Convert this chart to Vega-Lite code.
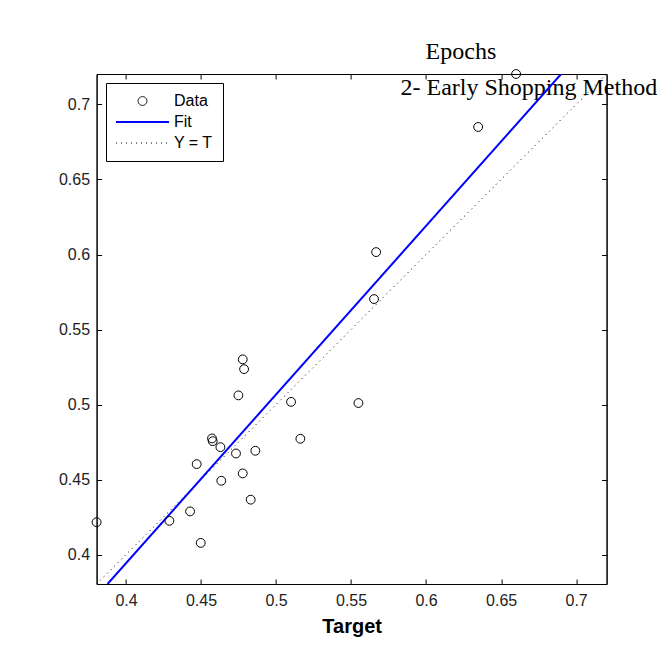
{
  "$schema": "https://vega.github.io/schema/vega-lite/v6.json",
  "width": 510,
  "height": 510,
  "autosize": "none",
  "padding": {"left": 96.6, "top": 74, "right": 50.4, "bottom": 77},
  "background": "white",
  "title": {
    "text": "Epochs",
    "anchor": "start",
    "frame": "group",
    "dx": 329,
    "offset": -15,
    "baseline": "alphabetic",
    "font": "Liberation Serif",
    "fontSize": 24,
    "fontWeight": "normal",
    "color": "#000000"
  },
  "config": {
    "view": {"stroke": "#000000", "strokeWidth": 1},
    "axis": {
      "grid": false,
      "domainColor": "#000000",
      "tickColor": "#000000",
      "labelColor": "#222222",
      "labelFont": "Liberation Sans",
      "labelFontSize": 16,
      "tickSize": -5
    },
    "legend": {
      "title": null,
      "orient": "none",
      "legendX": 9.4,
      "legendY": 9,
      "fillColor": "#ffffff",
      "strokeColor": "#000000",
      "padding": 10,
      "rowPadding": 5,
      "labelFont": "Liberation Sans",
      "labelFontSize": 16,
      "labelColor": "#000000",
      "symbolSize": 78
    }
  },
  "datasets": {
    "points": [
      {"target": 0.3804, "output": 0.4216, "series": "Data"},
      {"target": 0.4289, "output": 0.4225, "series": "Data"},
      {"target": 0.4427, "output": 0.4288, "series": "Data"},
      {"target": 0.4498, "output": 0.4078, "series": "Data"},
      {"target": 0.4471, "output": 0.4603, "series": "Data"},
      {"target": 0.4573, "output": 0.4774, "series": "Data"},
      {"target": 0.4578, "output": 0.4756, "series": "Data"},
      {"target": 0.4629, "output": 0.4716, "series": "Data"},
      {"target": 0.4635, "output": 0.4492, "series": "Data"},
      {"target": 0.4733, "output": 0.4674, "series": "Data"},
      {"target": 0.4778, "output": 0.4541, "series": "Data"},
      {"target": 0.4831, "output": 0.4366, "series": "Data"},
      {"target": 0.4862, "output": 0.4692, "series": "Data"},
      {"target": 0.4778, "output": 0.5301, "series": "Data"},
      {"target": 0.4787, "output": 0.5236, "series": "Data"},
      {"target": 0.4749, "output": 0.5061, "series": "Data"},
      {"target": 0.5100, "output": 0.5018, "series": "Data"},
      {"target": 0.5162, "output": 0.4772, "series": "Data"},
      {"target": 0.5549, "output": 0.5010, "series": "Data"},
      {"target": 0.5653, "output": 0.5703, "series": "Data"},
      {"target": 0.5667, "output": 0.6016, "series": "Data"},
      {"target": 0.6347, "output": 0.6850, "series": "Data"},
      {"target": 0.6600, "output": 0.7203, "series": "Data"}
    ],
    "fit": [
      {"target": 0.3877, "output": 0.3804, "series": "Fit"},
      {"target": 0.6900, "output": 0.7203, "series": "Fit"}
    ],
    "diag": [
      {"target": 0.3804, "output": 0.3804, "series": "Y = T"},
      {"target": 0.7203, "output": 0.7203, "series": "Y = T"}
    ]
  },
  "resolve": {"axis": {"x": "independent", "y": "independent"}},
  "layer": [
    {
      "data": {"name": "diag"},
      "mark": {"type": "line", "strokeDash": [1, 4], "strokeWidth": 1, "clip": true},
      "encoding": {
        "x": {"field": "target", "type": "quantitative", "scale": {"domain": [0.3804, 0.7203], "nice": false, "zero": false},
              "axis": {"orient": "top", "labels": false, "values": [0.4, 0.45, 0.5, 0.55, 0.6, 0.65, 0.7],
                       "title": "2- Early Shopping Method", "titleFont": "Liberation Serif", "titleFontSize": 24,
                       "titleFontWeight": "normal", "titleColor": "#000000", "titleAnchor": "start", "titleAlign": "left",
                       "titleBaseline": "alphabetic", "titleX": 303.4, "titleY": 20}},
        "y": {"field": "output", "type": "quantitative", "scale": {"domain": [0.3804, 0.7203], "nice": false, "zero": false},
              "axis": {"orient": "right", "labels": false, "title": null, "values": [0.4, 0.45, 0.5, 0.55, 0.6, 0.65, 0.7]}},
        "color": {"field": "series", "type": "nominal",
                  "scale": {"domain": ["Data", "Fit", "Y = T"], "range": ["#000000", "#0000ff", "#000000"]},
                  "legend": {
                    "encode": {
                      "symbols": {
                        "update": {
                          "shape": {"signal": "datum.value === 'Data' ? 'circle' : 'stroke'"},
                          "size": {"signal": "datum.value === 'Data' ? 78 : 2809"},
                          "x": {"value": 26.5},
                          "stroke": {"signal": "datum.value === 'Fit' ? '#0000ff' : '#000000'"},
                          "strokeWidth": {"signal": "datum.value === 'Fit' ? 2 : 1"},
                          "strokeDash": {"signal": "datum.value === 'Y = T' ? [1, 4] : [1, 0]"},
                          "fill": {"value": "transparent"},
                          "opacity": {"value": 1}
                        }
                      },
                      "labels": {
                        "update": {
                          "x": {"value": 58},
                          "fill": {"value": "#000000"}
                        }
                      }
                    }
                  }}
      }
    },
    {
      "data": {"name": "fit"},
      "mark": {"type": "line", "strokeWidth": 2, "clip": true},
      "encoding": {
        "x": {"field": "target", "type": "quantitative", "axis": null},
        "y": {"field": "output", "type": "quantitative", "axis": null},
        "color": {"field": "series", "type": "nominal"}
      }
    },
    {
      "data": {"name": "points"},
      "mark": {"type": "point", "shape": "circle", "filled": false, "size": 78, "strokeWidth": 1, "opacity": 1},
      "encoding": {
        "x": {"field": "target", "type": "quantitative",
              "axis": {"orient": "bottom", "values": [0.4, 0.45, 0.5, 0.55, 0.6, 0.65, 0.7], "format": ".2~f",
                       "labelPadding": 13, "title": "Target", "titleFont": "Liberation Sans", "titleFontSize": 20,
                       "titleFontWeight": "bold", "titleColor": "#000000", "titlePadding": 8}},
        "y": {"field": "output", "type": "quantitative",
              "axis": {"orient": "left", "values": [0.4, 0.45, 0.5, 0.55, 0.6, 0.65, 0.7], "format": ".2~f",
                       "labelPadding": 12, "title": null}},
        "color": {"field": "series", "type": "nominal"}
      }
    }
  ]
}
